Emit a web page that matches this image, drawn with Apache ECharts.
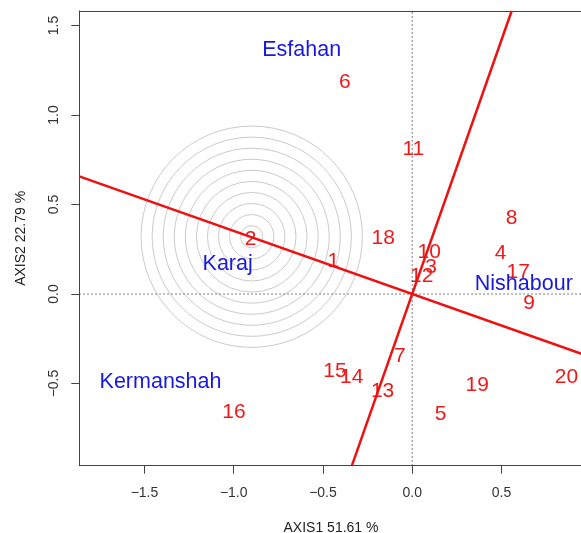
<!DOCTYPE html>
<html>
<head>
<meta charset="utf-8">
<script src="https://cdn.jsdelivr.net/npm/echarts@6/dist/echarts.min.js"></script>
<style>
html,body{margin:0;padding:0;background:#fff;}
#chart{width:581px;height:533px;}
</style>
</head>
<body>
<div id="chart"></div>
<script>
// ---- data ----
const xTicks = [-1.5, -1.0, -0.5, 0.0, 0.5];
const yTicks = [-0.5, 0.0, 0.5, 1.0, 1.5];
const xRange = [-1.865, 0.955];
const yRange = [-0.959, 1.581];

const genotypes = ['1','2','3','4','5','6','7','8','9','10','11','12','13','14','15','16','17','18','19','20'];
const genoX = [-0.442, -0.905, 0.105, 0.495, 0.159, -0.377, -0.069, 0.556, 0.655, 0.095, 0.006, 0.053, -0.166, -0.339, -0.433, -0.999, 0.594, -0.162, 0.364, 0.864];
const genoY = [0.190, 0.311, 0.158, 0.236, -0.667, 1.190, -0.341, 0.428, -0.043, 0.240, 0.814, 0.106, -0.536, -0.458, -0.425, -0.654, 0.125, 0.317, -0.503, -0.458];

const envNames = ['Esfahan', 'Karaj', 'Kermanshah', 'Nishabour'];
const envX = [-0.619, -1.034, -1.410, 0.625];
const envY = [1.367, 0.171, -0.484, 0.063];

const circleCenter = [-0.899, 0.320];
const circleRadii = [0.062, 0.124, 0.186, 0.248, 0.310, 0.372, 0.434, 0.496, 0.558, 0.620];

const lineA = [[-1.865, 0.657], [0.955, -0.336]];
const lineB = [[-0.338, -0.959], [0.557, 1.581]];

const xTitle = 'AXIS1 51.61 %';
const yTitle = 'AXIS2 22.79 %';

// ---- chart ----
const FONT = '"Liberation Sans", Arial, sans-serif';
const fmt = v => Number(v).toFixed(1).replace('-', '\u2212');
const AXIS_COLOR = '#444';

const chart = echarts.init(document.getElementById('chart'), null, {renderer: 'canvas'});

function textSeries(names, xs, ys, color, size) {
  return {
    type: 'custom',
    coordinateSystem: 'cartesian2d',
    silent: true,
    data: names.map((n, i) => [xs[i], ys[i], n]),
    encode: {x: 0, y: 1},
    renderItem: function (params, api) {
      const p = api.coord([api.value(0), api.value(1)]);
      return {
        type: 'text',
        x: p[0], y: p[1] + 1,
        style: {
          text: String(names[params.dataIndex]),
          fill: color,
          fontFamily: FONT,
          fontSize: size,
          align: 'center',
          verticalAlign: 'middle'
        }
      };
    }
  };
}

const option = {
  animation: false,
  backgroundColor: '#fff',
  grid: {
    left: 79.3, right: -1.7, top: 11, bottom: 67.3,
    show: false,
    containLabel: false,
    outerBoundsMode: 'none'
  },
  xAxis: [{
    type: 'value', min: xRange[0], max: xRange[1],
    splitLine: {show: false},
    axisLine: {show: true, onZero: false, lineStyle: {color: AXIS_COLOR, width: 1}},
    axisTick: {show: true, length: 8, customValues: xTicks, lineStyle: {color: AXIS_COLOR}},
    axisLabel: {show: true, customValues: xTicks, formatter: fmt, margin: 20,
      fontFamily: FONT, fontSize: 14, color: '#333'},
    name: xTitle, nameLocation: 'middle', nameGap: 55,
    nameTextStyle: {fontFamily: FONT, fontSize: 14, color: '#222'}
  }, {
    type: 'value', min: xRange[0], max: xRange[1], position: 'top',
    splitLine: {show: false},
    axisLine: {show: true, onZero: false, lineStyle: {color: AXIS_COLOR, width: 1}},
    axisTick: {show: false},
    axisLabel: {show: false}
  }],
  yAxis: {
    type: 'value', min: yRange[0], max: yRange[1],
    splitLine: {show: false},
    axisLine: {show: true, onZero: false, lineStyle: {color: AXIS_COLOR, width: 1}},
    axisTick: {show: true, length: 8, customValues: yTicks, lineStyle: {color: AXIS_COLOR}},
    axisLabel: {show: true, customValues: yTicks, formatter: fmt, rotate: 90, margin: 18,
      fontFamily: FONT, fontSize: 14, color: '#333'},
    name: yTitle, nameLocation: 'middle', nameGap: 51, nameRotate: 90,
    nameTextStyle: {fontFamily: FONT, fontSize: 14, color: '#222'}
  },
  series: [
    {
      type: 'custom',
      coordinateSystem: 'cartesian2d',
      silent: true,
      data: circleRadii.map(r => [circleCenter[0], circleCenter[1], r]),
      encode: {x: 0, y: 1},
      renderItem: function (params, api) {
        const c = api.coord([api.value(0), api.value(1)]);
        const r = api.size([api.value(2), 0])[0];
        return {
          type: 'circle',
          shape: {cx: c[0], cy: c[1], r: r},
          style: {fill: 'none', stroke: '#cbcbcb', lineWidth: 1}
        };
      }
    },
    {
      type: 'line', silent: true, symbol: 'none',
      data: [[xRange[0], 0], [xRange[1], 0]],
      lineStyle: {color: '#555', width: 1, type: [1.5, 2.5]}
    },
    {
      type: 'line', silent: true, symbol: 'none',
      data: [[0, yRange[0]], [0, yRange[1]]],
      lineStyle: {color: '#555', width: 1, type: [1.5, 2.5]}
    },
    {
      type: 'line', silent: true, symbol: 'none', clip: true,
      data: lineA,
      lineStyle: {color: '#ee1111', width: 2.5}
    },
    {
      type: 'line', silent: true, symbol: 'none', clip: true,
      data: lineB,
      lineStyle: {color: '#ee1111', width: 2.5}
    },
    textSeries(genotypes, genoX, genoY, '#ee1a1a', 21),
    textSeries(envNames, envX, envY, '#1818e0', 21.5)
  ]
};
chart.setOption(option);
</script>
</body>
</html>
